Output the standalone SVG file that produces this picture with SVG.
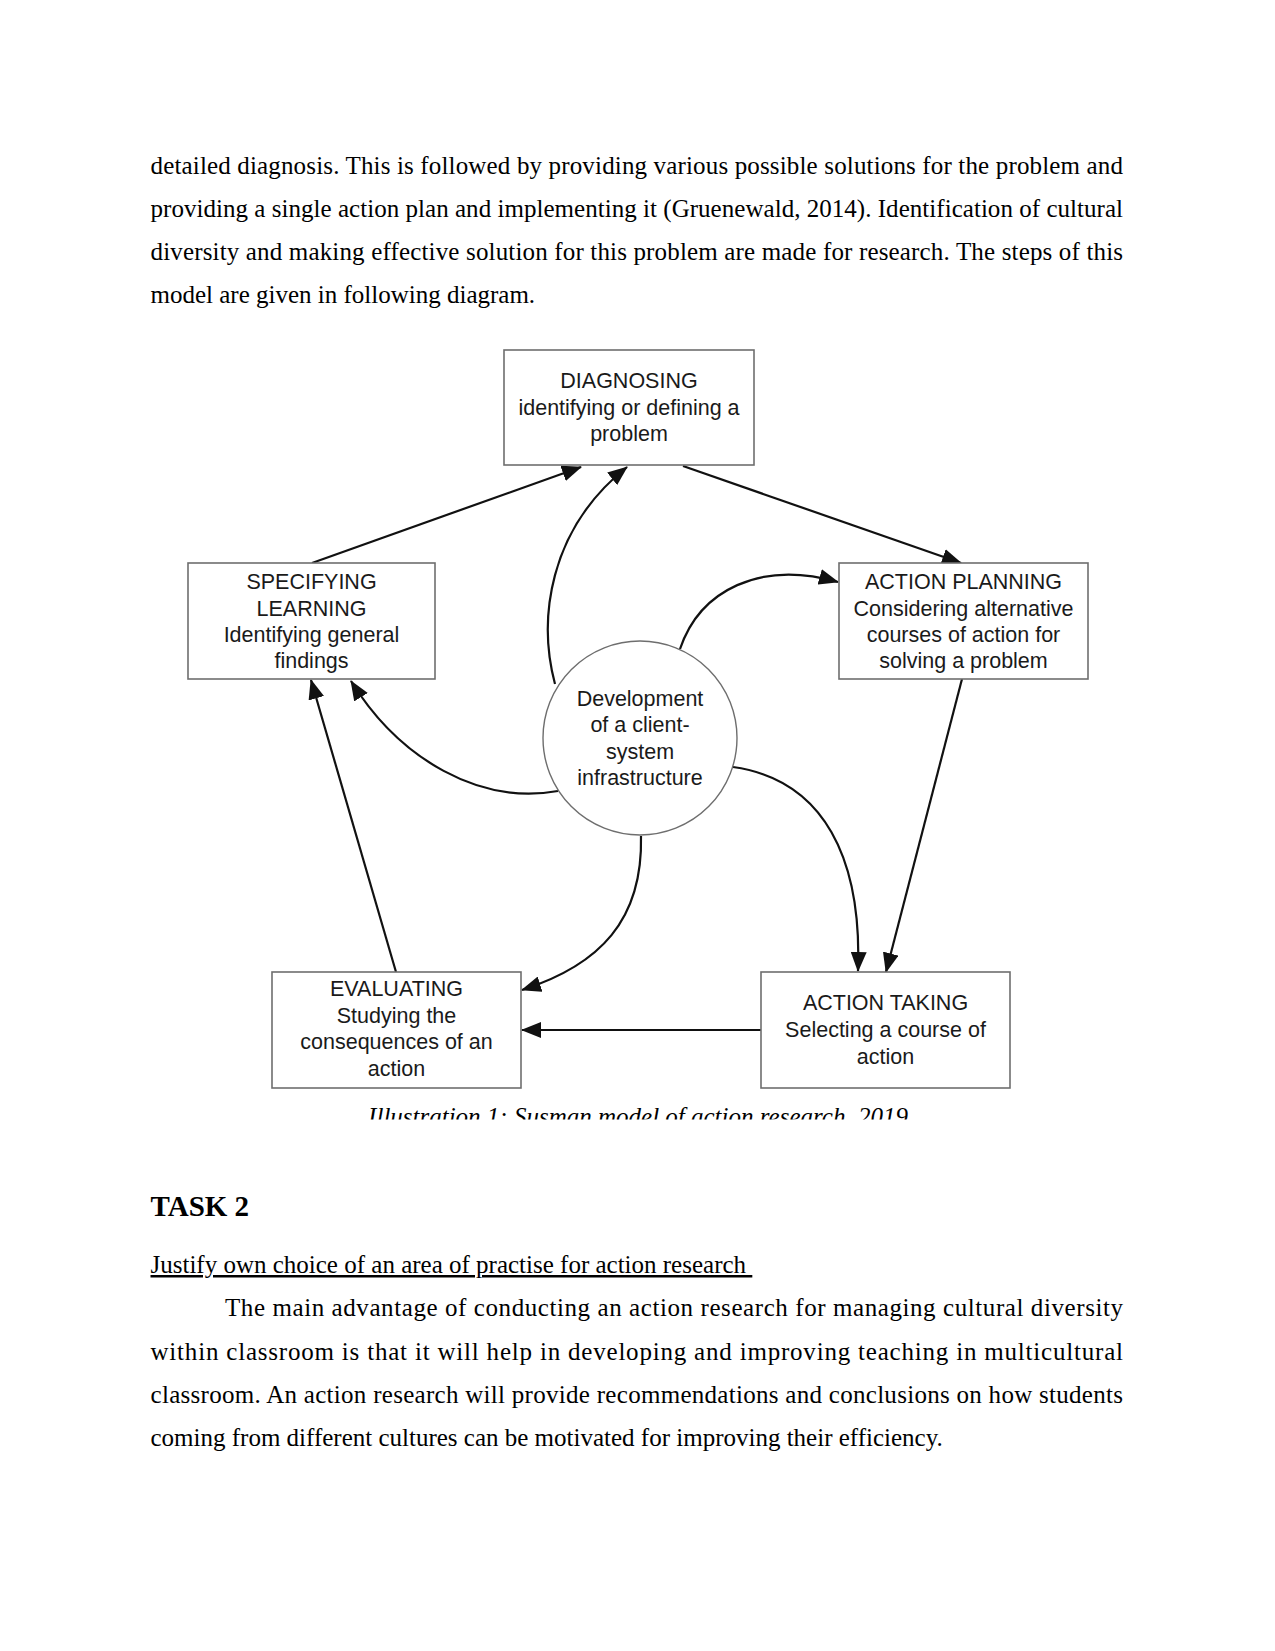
<svg xmlns="http://www.w3.org/2000/svg" width="1275" height="1651" viewBox="0 0 1275 1651">
<style>
.body{font-family:"Liberation Serif","Times New Roman",serif;font-size:25px;fill:#000}
.node rect{fill:#fff;stroke:#6e6e6e;stroke-width:1.6}
.node circle{fill:#fff;stroke:#6e6e6e;stroke-width:1.4}
.node text{font-family:"Liberation Sans",Arial,sans-serif;font-size:21.5px;fill:#1a1a1a;text-anchor:middle}
.conn path,.conn line{fill:none;stroke:#111;stroke-width:2.2;marker-end:url(#ah)}
</style>
<defs>
<marker id="ah" markerUnits="userSpaceOnUse" markerWidth="20" markerHeight="16" refX="19" refY="8" orient="auto">
<path d="M0,0 L20,8 L0,16 z" fill="#111"/>
</marker>
<clipPath id="capclip"><rect x="300" y="1095" width="700" height="24.5"/></clipPath>
</defs>
<rect width="1275" height="1651" fill="#fff"/>

<g id="para1" class="body">
<text x="150.5" y="174" textLength="972.5" lengthAdjust="spacing">detailed diagnosis. This is followed by providing various possible solutions for the problem and</text>
<text x="150.5" y="217" textLength="972.5" lengthAdjust="spacing">providing a single action plan and implementing it (Gruenewald, 2014). Identification of cultural</text>
<text x="150.5" y="260" textLength="972.5" lengthAdjust="spacing">diversity and making effective solution for this problem are made for research. The steps of this</text>
<text x="150.5" y="303">model are given in following diagram.</text>
</g>

<g class="conn" id="connectors">
<line x1="312" y1="563" x2="581" y2="467"/>
<path d="M555,684 C538,620 548,530 627,467"/>
<line x1="683" y1="466" x2="961" y2="563"/>
<path d="M680,649 C700,590 760,560 838,582"/>
<line x1="962" y1="679" x2="886" y2="972"/>
<path d="M733,767 C825,780 862,860 858,971"/>
<line x1="761" y1="1030" x2="522" y2="1030"/>
<path d="M641,836 C643,920 600,965 522,990"/>
<line x1="396" y1="972" x2="311" y2="680"/>
<path d="M558,791 C480,805 400,760 351,681"/>
</g>

<g id="diagnosing" class="node">
<rect x="504" y="350" width="250" height="115"/>
<text x="629" y="388">DIAGNOSING</text>
<text x="629" y="414.5">identifying or defining a</text>
<text x="629" y="441">problem</text>
</g>

<g id="specifying-learning" class="node">
<rect x="188" y="563" width="247" height="116"/>
<text x="311.5" y="589">SPECIFYING</text>
<text x="311.5" y="615.5">LEARNING</text>
<text x="311.5" y="642">Identifying general</text>
<text x="311.5" y="668">findings</text>
</g>

<g id="action-planning" class="node">
<rect x="839" y="563" width="249" height="116"/>
<text x="963.5" y="589">ACTION PLANNING</text>
<text x="963.5" y="615.5">Considering alternative</text>
<text x="963.5" y="642">courses of action for</text>
<text x="963.5" y="668">solving a problem</text>
</g>

<g id="infrastructure" class="node">
<circle cx="640" cy="738" r="97"/>
<text x="640" y="705.5">Development</text>
<text x="640" y="732">of a client-</text>
<text x="640" y="758.5">system</text>
<text x="640" y="784.5">infrastructure</text>
</g>

<g id="evaluating" class="node">
<rect x="272" y="972" width="249" height="116"/>
<text x="396.5" y="996">EVALUATING</text>
<text x="396.5" y="1022.5">Studying the</text>
<text x="396.5" y="1049">consequences of an</text>
<text x="396.5" y="1076">action</text>
</g>

<g id="action-taking" class="node">
<rect x="761" y="972" width="249" height="116"/>
<text x="885.5" y="1010">ACTION TAKING</text>
<text x="885.5" y="1037">Selecting a course of</text>
<text x="885.5" y="1064">action</text>
</g>

<g id="caption" clip-path="url(#capclip)">
<text x="638" y="1125" text-anchor="middle" font-family="Liberation Serif,'Times New Roman',serif" font-style="italic" font-size="25" fill="#000">Illustration 1: Susman model of action research, 2019</text>
</g>

<g id="task2" class="body">
<text x="150.5" y="1215.5" font-weight="bold" font-size="29">TASK 2</text>
<text x="150.5" y="1273" text-decoration="underline" xml:space="preserve">Justify own choice of an area of practise for action research&#160;</text>
<text x="225" y="1316" textLength="898" lengthAdjust="spacing">The main advantage of conducting an action research for managing cultural diversity</text>
<text x="150.5" y="1359.5" textLength="972.5" lengthAdjust="spacing">within classroom is that it will help in developing and improving teaching in multicultural</text>
<text x="150.5" y="1403" textLength="972.5" lengthAdjust="spacing">classroom. An action research will provide recommendations and conclusions on how students</text>
<text x="150.5" y="1446">coming from different cultures can be motivated for improving their efficiency.</text>
</g>
</svg>
